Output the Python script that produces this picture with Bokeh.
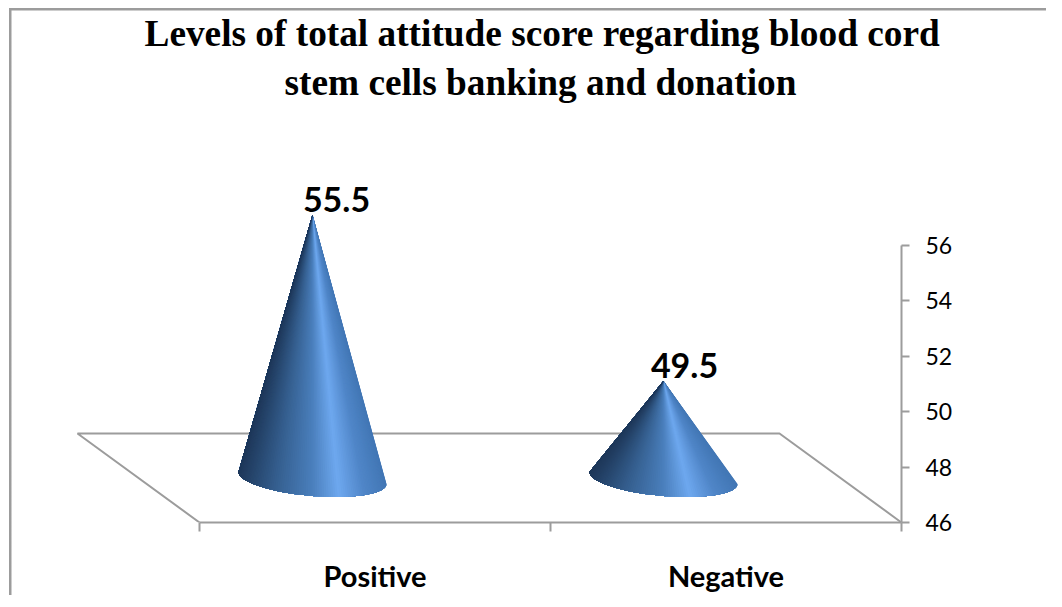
import math
from bokeh.plotting import figure
from bokeh.models import Range1d, LinearAxis, FixedTicker, Title, ColumnDataSource
from bokeh.core.properties import value
from bokeh.embed import file_html
from bokeh.resources import INLINE

title_lines = ["Levels of total attitude score regarding blood cord",
               "stem cells banking and donation"]
title_left = [144, 284]
categories = ["Positive", "Negative"]
scores = [55.5, 49.5]
y_ticks = [46, 48, 50, 52, 54, 56]

Y_MIN = 46
GREY = "#9c9c9c"
PX_X = 351.0      # pixels per category
PX_Y = 27.7       # pixels per axis unit
W, H = 1046, 591
AXIS_X = 901
AXIS_Y = 522
FRAME_TOP = 108
FRAME_H = AXIS_Y - FRAME_TOP

def lerp_colour(f):
    stops = [(0.0, (30, 56, 90)), (0.25, (53, 95, 143)), (0.5, (74, 127, 188)),
             (0.68, (110, 168, 239)), (0.85, (80, 134, 200)), (1.0, (66, 119, 181))]
    for (a, ca), (b, cb) in zip(stops, stops[1:]):
        if f <= b:
            k = (f - a) / (b - a)
            return "#%02x%02x%02x" % tuple(round(u + (v - u) * k) for u, v in zip(ca, cb))
    return "#4277b5"

p = figure(width=W, height=H, output_backend="svg", toolbar_location=None,
           x_axis_type=None, y_axis_type=None,
           frame_width=AXIS_X, frame_height=FRAME_H,
           min_border_left=0, min_border_top=FRAME_TOP, min_border_right=W - AXIS_X,
           min_border_bottom=H - AXIS_Y,
           x_range=Range1d(-199 / PX_X, 2),
           y_range=Range1d(Y_MIN, Y_MIN + FRAME_H / PX_Y))
p.outline_line_color = None
p.grid.visible = False
p.background_fill_color = None
p.border_fill_color = None

# chart-area border: only its top and left sides are visible in the reference
p.styles = {
    "background-color": "white",
    "background-image": f"linear-gradient({GREY},{GREY}), linear-gradient({GREY},{GREY})",
    "background-repeat": "no-repeat",
    "background-position": "8.5px 7.5px, 8.5px 7.5px",
    "background-size": "2.5px 100%, 100% 2.5px",
}

for line, left, gap in reversed(list(zip(title_lines, title_left, [0, 12]))):
    p.add_layout(Title(text=line, align="left", offset=left, text_font="Liberation Serif",
                       text_font_size="37.3px", text_font_style="bold", text_color="black",
                       standoff=gap), "above")

# 3-D floor
DX = 122 / PX_X
DY = 89 / PX_Y
p.line([0, -DX, 2 - DX, 2], [Y_MIN, Y_MIN + DY, Y_MIN + DY, Y_MIN], line_color=GREY, line_width=2)

# cones: overlapping fans, painted right to left, carrying a horizontal shading
xs, ys, cols = [], [], []
N = 100
centres = [i + 0.5 - DX / 2 - 1.5 / PX_X for i in range(len(scores))]
for cx, v in zip(centres, scores):
    cy = Y_MIN + DY / 2
    ax, ay = cx, v + DY / 2
    arc = [(cx + 74 * math.cos(math.pi * k / N) / PX_X,
            cy - (6 * math.cos(math.pi * k / N) + 18 * math.sin(math.pi * k / N)) / PX_Y) for k in range(N + 1)]
    for k in range(N):
        xs.append([ax] + [q[0] for q in arc[k:]])
        ys.append([ay] + [q[1] for q in arc[k:]])
        cols.append(lerp_colour((math.cos(math.pi * (k + 0.5) / N) + 1) / 2))
p.patches(xs, ys, fill_color=cols, line_color=None)

# value labels
src = ColumnDataSource(dict(x=centres,
                            y=[v + DY / 2 for v in scores],
                            t=[str(v) for v in scores],
                            dx=[24, 21]))
p.text("x", "y", text="t", source=src, x_offset="dx", y_offset=-3, text_align="center",
       text_baseline="bottom", text_font=value("Lato"), text_font_size="34px",
       text_font_style="bold", text_color="black")

# axes
ya = LinearAxis(ticker=FixedTicker(ticks=y_ticks), bounds=(46, 56))
ya.axis_line_color = GREY
ya.axis_line_width = 2
ya.major_tick_line_color = GREY
ya.major_tick_line_width = 2
ya.major_tick_out = 8
ya.major_tick_in = 0
ya.minor_tick_out = 0
ya.minor_tick_in = 0
ya.major_label_standoff = 16
ya.major_label_text_font = "Lato"
ya.major_label_text_font_size = "23px"
ya.major_label_text_color = "black"
p.add_layout(ya, "right")

xa = LinearAxis(ticker=FixedTicker(ticks=[i + 0.5 for i in range(len(categories))],
                                   minor_ticks=[0, 1, 2]), bounds=(0, 2))
xa.major_label_overrides = {i + 0.5: c for i, c in enumerate(categories)}
xa.axis_line_color = GREY
xa.axis_line_width = 2
xa.major_tick_out = 0
xa.major_tick_in = 0
xa.minor_tick_line_color = GREY
xa.minor_tick_line_width = 2
xa.minor_tick_out = 9
xa.minor_tick_in = 0
xa.major_label_standoff = 26
xa.major_label_text_font = "Lato"
xa.major_label_text_font_size = "29px"
xa.major_label_text_font_style = "bold"
xa.major_label_text_color = "black"
p.add_layout(xa, "below")

open("out.html", "w").write(file_html(p, INLINE))
